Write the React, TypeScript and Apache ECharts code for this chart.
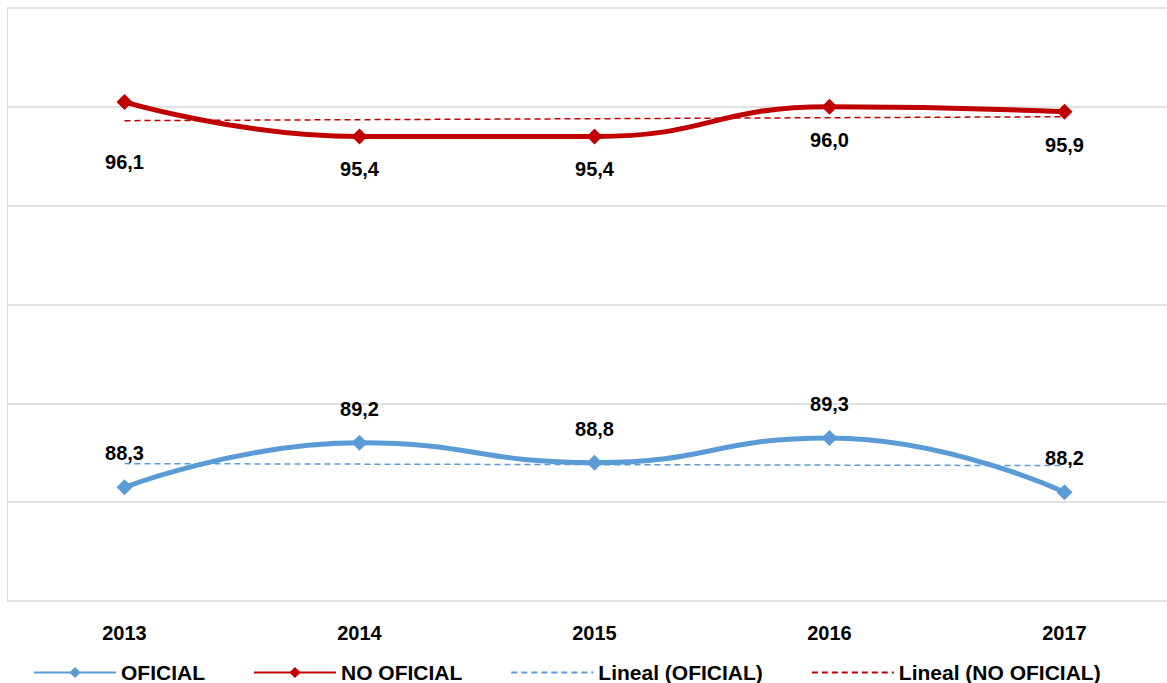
import React, { useEffect, useRef } from 'react';
import * as echarts from 'echarts';

const years = ['2013', '2014', '2015', '2016', '2017'];
const oficial = [88.3, 89.2, 88.8, 89.3, 88.2];
const noOficial = [96.1, 95.4, 95.4, 96.0, 95.9];
const trendOficial = [88.78, null, null, null, 88.74];
const trendNoOficial = [95.72, null, null, null, 95.8];

const BLUE = '#5B9BD5';
const RED = '#C00000';

const App = () => {
    const chartRef = useRef(null);

    useEffect(() => {
        if (!chartRef.current) return;
        document.body.style.margin = '0';
        const chart = echarts.init(chartRef.current, null, { renderer: 'svg' });

        const labelStyle = {
            show: true,
            fontFamily: 'Liberation Sans, Arial',
            fontWeight: 'bold',
            fontSize: 20,
            color: '#000',
            formatter: (p: any) => p.value.toFixed(1).replace('.', ','),
        };

        chart.setOption({
            animation: false,
            textStyle: { fontFamily: 'Liberation Sans, Arial' },
            grid: { left: 7, top: 8, right: 0, height: 593 },
            xAxis: {
                type: 'category',
                data: years,
                axisLine: { show: false },
                axisTick: { show: false },
                axisLabel: { fontSize: 20, fontWeight: 'bold', color: '#000', margin: 22 },
            },
            yAxis: {
                type: 'value',
                min: 86,
                max: 98,
                interval: 2,
                axisLabel: { show: false },
                axisLine: { show: true, lineStyle: { color: '#d9d9d9' } },
                splitLine: { lineStyle: { color: '#d9d9d9', width: 1.5 } },
            },
            legend: {
                top: 657,
                left: 28,
                itemGap: 48,
                itemWidth: 82,
                textStyle: { fontSize: 21, fontWeight: 'bold', color: '#000' },
                data: [
                    'OFICIAL',
                    'NO OFICIAL',
                    { name: 'Lineal (OFICIAL)', itemStyle: { opacity: 0 } },
                    { name: 'Lineal (NO OFICIAL)', itemStyle: { opacity: 0 } },
                ],
            },
            series: [
                {
                    name: 'OFICIAL',
                    type: 'line',
                    data: oficial,
                    smooth: 0.5,
                    symbol: 'diamond',
                    symbolSize: 16,
                    lineStyle: { color: BLUE, width: 5 },
                    itemStyle: { color: BLUE },
                    label: { ...labelStyle, position: 'top', distance: 16 },
                    z: 3,
                },
                {
                    name: 'NO OFICIAL',
                    type: 'line',
                    data: noOficial.map((v, i) =>
                        i === 0 ? { value: v, label: { distance: 42 } } : v
                    ),
                    smooth: 0.5,
                    symbol: 'diamond',
                    symbolSize: 16,
                    lineStyle: { color: RED, width: 5 },
                    itemStyle: { color: RED },
                    label: { ...labelStyle, position: 'bottom', distance: 15 },
                    z: 3,
                },
                {
                    name: 'Lineal (OFICIAL)',
                    type: 'line',
                    data: trendOficial,
                    connectNulls: true,
                    symbol: 'none',
                    lineStyle: { color: BLUE, width: 1.5, type: [6, 4] },
                    itemStyle: { color: BLUE },
                    z: 2,
                },
                {
                    name: 'Lineal (NO OFICIAL)',
                    type: 'line',
                    data: trendNoOficial,
                    connectNulls: true,
                    symbol: 'none',
                    lineStyle: { color: RED, width: 1.5, type: [6, 4] },
                    itemStyle: { color: RED },
                    z: 2,
                },
            ],
        });

        return () => chart.dispose();
    }, []);

    return (
        <div style={{ width: '1167px', height: '683px', overflow: 'hidden' }}>
            <div ref={chartRef} style={{ width: '1182px', height: '683px' }} />
        </div>
    );
};

export default App;
